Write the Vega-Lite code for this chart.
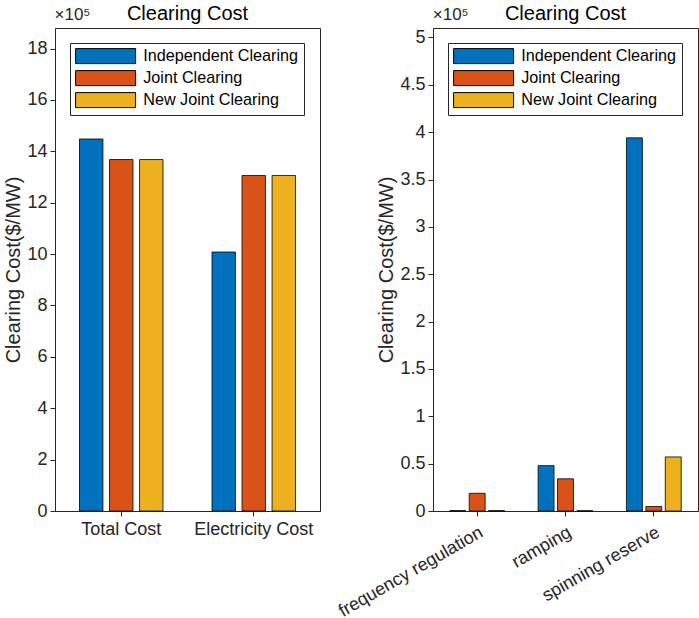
{
  "$schema": "https://vega.github.io/schema/vega-lite/v6.json",
  "padding": {"left": 3, "top": 3, "right": 2, "bottom": 0},
  "spacing": 13,
  "datasets": {
    "energy": [
      {"item": "Total Cost", "method": "Independent Clearing", "cost": 14.48},
      {"item": "Total Cost", "method": "Joint Clearing", "cost": 13.68},
      {"item": "Total Cost", "method": "New Joint Clearing", "cost": 13.68},
      {"item": "Electricity Cost", "method": "Independent Clearing", "cost": 10.08},
      {"item": "Electricity Cost", "method": "Joint Clearing", "cost": 13.06},
      {"item": "Electricity Cost", "method": "New Joint Clearing", "cost": 13.06}
    ],
    "reserve": [
      {"item": "frequency regulation", "method": "Independent Clearing", "cost": 0.004},
      {"item": "frequency regulation", "method": "Joint Clearing", "cost": 0.187},
      {"item": "frequency regulation", "method": "New Joint Clearing", "cost": 0.004},
      {"item": "ramping", "method": "Independent Clearing", "cost": 0.479},
      {"item": "ramping", "method": "Joint Clearing", "cost": 0.34},
      {"item": "ramping", "method": "New Joint Clearing", "cost": 0.003},
      {"item": "spinning reserve", "method": "Independent Clearing", "cost": 3.94},
      {"item": "spinning reserve", "method": "Joint Clearing", "cost": 0.048},
      {"item": "spinning reserve", "method": "New Joint Clearing", "cost": 0.571}
    ],
    "scale_note": [{"label": "×10⁵"}]
  },
  "hconcat": [
    {
      "width": 265,
      "height": 483,
      "title": {"text": "Clearing Cost"},
      "layer": [
        {
          "data": {"name": "energy"},
          "mark": {"type": "bar", "stroke": "#000000", "strokeWidth": 0.8},
          "encoding": {
            "x": {
              "field": "item", "type": "nominal", "sort": ["Total Cost", "Electricity Cost"],
              "scale": {"paddingInner": 0.37, "paddingOuter": 0.185},
              "axis": {"title": null, "labelAngle": 0, "labelPadding": 4, "encode": {"ticks": {"update": {"y2": {"value": -5}}}}}
            },
            "xOffset": {
              "field": "method", "type": "nominal",
              "scale": {"paddingInner": 0.22, "paddingOuter": 0}
            },
            "y": {
              "field": "cost", "type": "quantitative",
              "scale": {"domain": [0, 18.8], "nice": false},
              "axis": {"title": "Clearing Cost($/MW)", "values": [0, 2, 4, 6, 8, 10, 12, 14, 16, 18], "encode": {"ticks": {"update": {"x2": {"value": 5}}}}}
            },
            "color": {
              "field": "method", "type": "nominal",
              "scale": {
                "domain": ["Independent Clearing", "Joint Clearing", "New Joint Clearing"],
                "range": ["#0072BD", "#D95319", "#EDB120"]
              },
              "legend": {"title": null, "orient": "top-left"}
            }
          }
        },
        {
          "data": {"name": "scale_note"},
          "mark": {"type": "text", "align": "left", "baseline": "middle", "dx": -25, "dy": -13, "fontSize": 17, "color": "#262626"},
          "encoding": {
            "x": {"datum": "Total Cost", "type": "nominal", "bandPosition": 0},
            "y": {"datum": 18.8, "type": "quantitative"},
            "text": {"field": "label"}
          }
        }
      ]
    },
    {
      "width": 265,
      "height": 483,
      "title": {"text": "Clearing Cost"},
      "layer": [
        {
          "data": {"name": "reserve"},
          "mark": {"type": "bar", "stroke": "#000000", "strokeWidth": 0.8},
          "encoding": {
            "x": {
              "field": "item", "type": "nominal", "sort": ["frequency regulation", "ramping", "spinning reserve"],
              "scale": {"paddingInner": 0.38, "paddingOuter": 0.19},
              "axis": {"title": null, "labelAngle": -30, "labelAlign": "right", "labelBaseline": "top", "labelPadding": 7, "encode": {"ticks": {"update": {"y2": {"value": -5}}}}}
            },
            "xOffset": {
              "field": "method", "type": "nominal",
              "scale": {"paddingInner": 0.18, "paddingOuter": 0}
            },
            "y": {
              "field": "cost", "type": "quantitative",
              "scale": {"domain": [0, 5.1], "nice": false},
              "axis": {"title": "Clearing Cost($/MW)", "format": "~g", "values": [0, 0.5, 1, 1.5, 2, 2.5, 3, 3.5, 4, 4.5, 5], "encode": {"ticks": {"update": {"x2": {"value": 5}}}}}
            },
            "color": {
              "field": "method", "type": "nominal",
              "scale": {
                "domain": ["Independent Clearing", "Joint Clearing", "New Joint Clearing"],
                "range": ["#0072BD", "#D95319", "#EDB120"]
              },
              "legend": {"title": null, "orient": "top-left"}
            }
          }
        },
        {
          "data": {"name": "scale_note"},
          "mark": {"type": "text", "align": "left", "baseline": "middle", "dx": -17, "dy": -13, "fontSize": 17, "color": "#262626"},
          "encoding": {
            "x": {"datum": "frequency regulation", "type": "nominal", "bandPosition": 0},
            "y": {"datum": 5.1, "type": "quantitative"},
            "text": {"field": "label"}
          }
        }
      ]
    }
  ],
  "resolve": {
    "scale": {"color": "independent", "xOffset": "independent", "x": "independent", "y": "independent"},
    "legend": {"color": "independent"}
  },
  "config": {
    "font": "Liberation Sans",
    "view": {"stroke": "#262626", "strokeWidth": 1},
    "title": {"fontSize": 20, "fontWeight": "normal", "color": "#000000", "anchor": "middle", "offset": -18},
    "axis": {
      "domainColor": "#262626",
      "tickColor": "#262626",
      "tickSize": 5,
      "grid": false,
      "labelFontSize": 18,
      "labelColor": "#262626",
      "titleFontSize": 20,
      "titleFontWeight": "normal",
      "titleColor": "#262626",
      "labelPadding": 3,
      "titlePadding": 3
    },
    "legend": {
      "offset": 15,
      "padding": 5,
      "fillColor": "#ffffff",
      "strokeColor": "#262626",
      "labelFontSize": 16.2,
      "labelColor": "#000000",
      "labelLimit": 300,
      "labelOffset": 52,
      "rowPadding": 2,
      "symbolType": "M-1,-1H7V1H-1Z",
      "symbolSize": 225,
      "symbolStrokeColor": "#000000",
      "symbolStrokeWidth": 1,
      "symbolOpacity": 1
    }
  }
}
